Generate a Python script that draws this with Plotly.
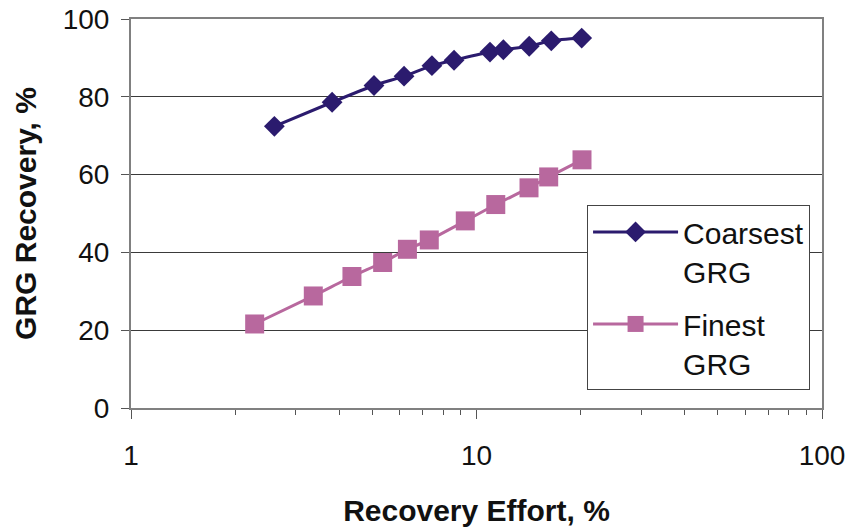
import plotly.graph_objects as go

# Data
coarse_x = [2.60, 3.82, 5.05, 6.17, 7.43, 8.61, 10.94, 11.96, 14.21, 16.46, 20.16]
coarse_y = [72.4, 78.6, 82.9, 85.3, 88.0, 89.4, 91.5, 92.1, 93.0, 94.4, 95.1]
fine_x = [2.28, 3.37, 4.36, 5.35, 6.31, 7.30, 9.28, 11.37, 14.19, 16.18, 20.20]
fine_y = [21.6, 28.8, 33.8, 37.4, 40.8, 43.2, 48.1, 52.3, 56.6, 59.4, 63.8]

x_ticks = [1, 10, 100]
x_minor = [2, 3, 4, 5, 6, 7, 8, 9, 20, 30, 40, 50, 60, 70, 80, 90]
y_ticks = [0, 20, 40, 60, 80, 100]

FONT = "Liberation Sans, Arial, sans-serif"

fig = go.Figure()
fig.add_trace(go.Scatter(
    x=coarse_x, y=coarse_y, mode="lines+markers", name="Coarsest<br>GRG",
    legendgroup="a",
    line=dict(color="#2B1B6E", width=3, shape="spline", smoothing=0.6),
    marker=dict(symbol="diamond", size=16, color="#2B1B6E"),
))
fig.add_trace(go.Scatter(
    x=fine_x, y=fine_y, mode="lines+markers", name="Finest<br>GRG",
    legendgroup="b",
    line=dict(color="#B8689E", width=3, shape="spline", smoothing=0.6),
    marker=dict(symbol="square", size=19, color="#B8689E"),
))

fig.update_layout(
    width=851, height=529,
    margin=dict(l=131, r=29, t=19, b=121),
    paper_bgcolor="white", plot_bgcolor="white",
    font=dict(family=FONT, size=28, color="#111111"),
    showlegend=True,
    legend=dict(
        x=0.66, y=0.522, xanchor="left", yanchor="top",
        bgcolor="white", bordercolor="#444444", borderwidth=1,
        font=dict(family=FONT, size=30, color="#111111"),
        valign="top", itemwidth=85, tracegroupgap=11, traceorder="grouped",
    ),
)

fig.update_xaxes(
    type="log", range=[0, 2], automargin=False,
    tickmode="array", tickvals=x_ticks, ticktext=[str(v) for v in x_ticks],
    ticks="outside", ticklen=9, tickwidth=1, tickcolor="#555555",
    minor=dict(ticks="outside", ticklen=5, tickwidth=1, tickcolor="#555555",
               tickvals=x_minor, showgrid=False),
    showgrid=False, zeroline=False,
    showline=True, linecolor="#808080", linewidth=2, mirror=True,
    tickfont=dict(family=FONT, size=28, color="#111111"),
    ticklabelstandoff=12,
    title=dict(text="<b>Recovery Effort, %</b>", standoff=30,
               font=dict(family=FONT, size=30, color="#111111")),
)
fig.update_yaxes(
    range=[0, 100], tickmode="array", tickvals=y_ticks, automargin=False,
    ticks="outside", ticklen=8, tickwidth=1, tickcolor="#555555",
    showgrid=True, gridcolor="#3A3A3A", gridwidth=1, zeroline=False,
    showline=True, linecolor="#808080", linewidth=2, mirror=True,
    tickfont=dict(family=FONT, size=28, color="#111111"),
    ticklabelstandoff=6,
    title=dict(text="<b>GRG Recovery, %</b>", standoff=17,
               font=dict(family=FONT, size=30, color="#111111")),
)

fig.write_html("out.html")
